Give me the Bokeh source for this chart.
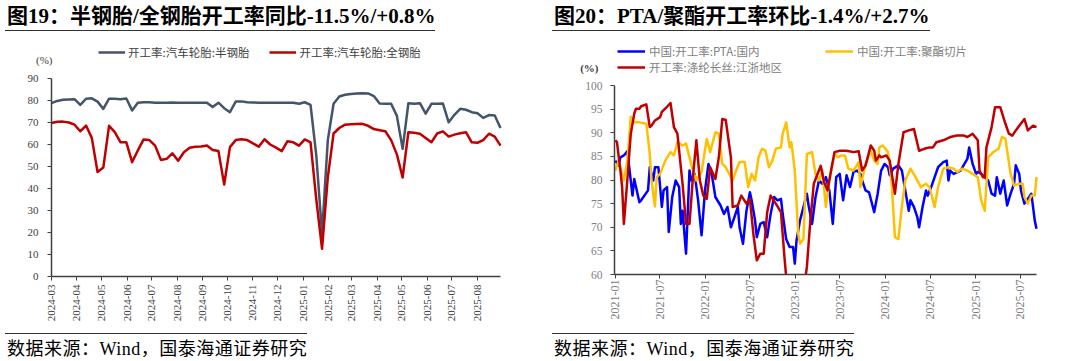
import math
import pandas as pd
from bokeh.plotting import figure
from bokeh.models import (Range1d, FixedTicker, MonthsTicker, DatetimeTickFormatter,
                          Legend, LegendItem, Label, Div)
from bokeh.layouts import row, column
from bokeh.embed import file_html
from bokeh.resources import INLINE

nan = float("nan")

# ---------------- data: left chart (weekly, from 2024-03-01) ----------------
tire_start = "2024-03-01"
tire_weeks = 79
semi_steel = [78.8, 79.8, 80.3, 80.5, 80.6, 78.0, 80.8, 81.0, 79.5, 76.2,
              80.8, 80.8, 80.6, 80.9, 75.5, 79.0, 79.2, 79.2, 79.0, 79.0,
              79.0, 79.1, 79.0, 79.0, 79.0, 79.0, 79.0, 79.0, 77.0, 79.0,
              76.5, 74.7, 79.5, 79.6, 79.2, 79.1, 79.0, 79.0, 79.0, 79.0,
              79.0, 79.0, 79.0, 78.5, 79.2, 78.0, 55.0, 19.4, 62.0, 78.5,
              81.8, 82.6, 83.0, 83.2, 83.3, 83.2, 82.0, 78.6, 78.5, 78.5,
              73.0, 58.0, 78.8, 78.5, 78.8, 74.0, 78.5, 78.5, 78.6, 70.1,
              73.5, 76.2, 75.8, 74.7, 74.2, 72.1, 73.4, 73.2, 67.5]
all_steel = [69.8, 70.3, 70.4, 70.0, 69.0, 66.0, 68.6, 63.0, 47.5, 49.5,
             68.5, 65.6, 61.0, 61.0, 52.0, 57.3, 62.3, 62.0, 59.5, 53.0,
             53.5, 56.0, 52.6, 56.5, 58.5, 59.0, 59.1, 59.5, 57.5, 57.0,
             41.8, 58.8, 62.0, 62.4, 62.0, 60.5, 59.0, 62.4, 60.0, 58.6,
             57.0, 61.5, 61.0, 59.5, 62.3, 61.0, 35.0, 12.6, 45.0, 65.0,
             67.5, 69.0, 69.2, 69.3, 69.4, 68.5, 67.0, 66.5, 66.0, 62.0,
             55.5, 45.0, 65.6, 65.3, 64.9, 63.0, 61.0, 65.0, 66.0, 63.6,
             64.5, 65.1, 65.6, 61.0, 60.8, 62.0, 64.9, 63.6, 59.5]
tire_labels = ["开工率:汽车轮胎:半钢胎", "开工率:汽车轮胎:全钢胎"]
tire_yticks = [0, 10, 20, 30, 40, 50, 60, 70, 80, 90]

# ---------------- data: right chart (week number since 2021-01-01) ----------------
week0 = "2021-01-01"
pta_week = [0, 2, 3, 5, 7, 10, 11, 14, 15, 19, 20, 22, 23, 25, 27, 28, 30, 31, 33, 35,
            37, 38, 39, 41, 43, 44, 46, 48, 50, 52, 54, 56, 58, 61, 63, 65, 67, 69, 71, 72,
            74, 76, 78, 79, 81, 82, 84, 86, 88, 90, 92, 94, 96, 97, 99, 101, 103, 104, 105, 107,
            111, 112, 114, 116, 118, 120, 122, 124, 126, 128, 130, 132, 134, 136, 138, 140, 142, 143, 145, 147,
            149, 150, 152, 154, 156, 158, 159, 161, 164, 166, 168, 170, 171, 173, 175, 176, 178, 180, 181, 183,
            185, 187, 190, 192, 193, 194, 196, 200, 204, 205, 207, 209, 210, 212, 214, 216, 218, 220, 221, 223,
            225, 227, 229, 231, 232, 234, 235, 237, 239, 241, 242, 243, 244]
pta_rate = [84.1, 83.1, 84.8, 85.2, 86.1, 76.7, 80.2, 75.3, 75.7, 77.8, 82.7, 79.9, 82.7, 82.7, 74.3, 77.8, 78.5, 69.0, 76.4, 79.9,
            78.5, 70.7, 73.5, 64.4, 82.0, 79.9, 81.3, 75.7, 68.3, 77.8, 83.4, 81.0, 76.4, 74.6, 72.8, 74.3, 70.0, 72.1, 74.3, 70.0,
            66.5, 73.5, 77.4, 75.7, 71.4, 67.9, 70.7, 71.1, 67.9, 72.8, 76.4, 75.7, 76.0, 72.8, 67.5, 65.8, 65.8, 62.3, 67.2, 71.4,
            77.1, 74.6, 70.7, 76.4, 79.9, 79.2, 80.6, 77.8, 70.7, 80.6, 81.3, 75.7, 81.0, 78.5, 81.7, 82.0, 81.3, 79.9, 77.8, 77.4,
            74.6, 73.2, 77.1, 82.0, 83.4, 82.7, 81.0, 82.4, 83.1, 82.0, 77.8, 73.5, 75.7, 74.3, 72.1, 70.0, 74.3, 77.8, 76.7, 78.5,
            80.6, 82.7, 83.8, 84.1, 79.9, 82.0, 81.3, 82.0, 84.5, 86.9, 83.4, 81.3, 81.7, 81.3, 80.6, 79.9, 77.1, 76.7, 80.6, 77.1,
            79.9, 74.6, 77.1, 79.2, 83.1, 81.3, 77.8, 75.0, 76.0, 77.1, 74.3, 71.4, 69.7]

chip_week = [0, 2, 5, 7, 9, 11, 14, 18, 20, 21, 23, 24, 26, 29, 32, 34, 36, 39, 41, 43,
             45, 47, 50, 53, 55, 58, 60, 62, 64, 68, 70, 72, 75, 77, 79, 81, 83, 85, 87, 89,
             91, 93, 96, 97, 99, 101, 102, 104, 106, 107, 109, 111, 114, 116, 118, 120, 122, 124, 127, 129,
             131, 133, 135, 138, 141, 142, 145, 148, 150, 152, 153, 155, 158, 160, 162, 164, 166, 168, 171, 174,
             177, 180, 182, 185, 187, 190, 193, 196, 198, 201, 204, 207, 210, 212, 214, 216, 219, 222, 224, 226,
             229, 231, 234, 236, 237, 239, 241, 243, 244]
chip_rate = [82.0, 84.1, 79.9, 84.0, 93.4, 92.2, 92.2, 91.9, 85.5, 79.9, 74.4, 80.6, 81.3, 84.1, 85.9, 85.2, 88.0, 87.3, 87.7, 84.8,
             82.0, 79.9, 81.7, 88.7, 85.9, 90.1, 89.8, 83.4, 82.7, 79.9, 82.0, 83.8, 83.8, 78.5, 81.3, 79.9, 84.8, 86.6, 86.2, 82.7,
             84.1, 86.6, 86.9, 89.8, 92.2, 86.9, 88.0, 82.0, 68.6, 66.5, 67.5, 85.5, 85.9, 81.3, 79.9, 82.0, 74.3, 79.9, 85.5, 84.8,
             85.2, 85.2, 82.4, 82.0, 83.8, 78.5, 83.4, 86.2, 84.1, 83.4, 86.9, 87.3, 85.9, 79.9, 67.9, 67.5, 74.3, 79.9, 82.4, 80.6,
             78.5, 79.2, 78.5, 74.3, 78.5, 82.4, 82.7, 82.4, 81.7, 82.4, 82.0, 81.3, 80.6, 75.7, 73.5, 84.8, 85.9, 86.6, 89.1, 88.7,
             81.3, 78.8, 79.2, 79.2, 76.4, 75.0, 76.7, 76.7, 80.6]

# values below the 60 floor are not visible in the source; nan marks that hidden stretch
yarn_week = [0, 1, 3, 4, 5, 7, 9, 11, 12, 14, 15, 18, 20, 21, 23, 26, 27, 30, 32, 34,
             36, 39, 41, 43, 45, 47, 49, 51, 53, 55, 58, 60, 62, 64, 67, 68, 71, 73, 76, 78,
             80, 82, 84, 86, 88, 90, 93, 96, 98, 98.9, 104, 110.4, 111, 113, 115, 119, 121, 123, 125, 127,
             130, 134, 138, 141, 143, 145, 148, 150, 151, 153, 154, 157, 159, 162, 164, 167, 170, 173, 176, 179,
             182, 184, 186, 190, 194, 198, 202, 204, 207, 210, 211, 213, 214, 215, 218, 220, 223, 226, 228, 230,
             232, 234, 237, 239, 242, 244]
yarn_rate = [88.4, 88.0, 82.0, 78.5, 70.7, 80.0, 89.8, 94.0, 95.1, 95.1, 95.6, 96.0, 91.2, 91.5, 92.6, 93.3, 94.4, 95.5, 96.3, 91.2,
             89.8, 79.2, 70.7, 70.7, 80.6, 88.4, 79.9, 76.7, 76.0, 82.7, 80.2, 84.8, 92.9, 92.7, 84.8, 74.3, 74.6, 76.7, 75.0, 76.0,
             68.6, 63.0, 64.4, 64.4, 73.2, 76.7, 75.0, 73.2, 63.7, 60.0, nan, 60.0, 61.6, 71.4, 79.2, 83.0, 79.5, 77.8, 82.0, 85.9,
             86.2, 86.2, 85.9, 86.1, 82.0, 83.1, 87.3, 86.2, 84.1, 85.2, 84.8, 85.2, 84.1, 77.1, 83.4, 90.1, 90.5, 90.8, 86.2, 86.6,
             86.9, 86.9, 88.0, 88.4, 89.1, 89.4, 89.4, 89.1, 89.8, 88.4, 82.0, 80.6, 80.6, 86.9, 91.2, 95.4, 95.4, 91.9, 89.8, 89.4,
             90.5, 91.5, 92.9, 90.5, 91.5, 91.2]
poly_labels = ["中国:开工率:PTA:国内", "开工率:涤纶长丝:江浙地区", "中国:开工率:聚酯切片"]
poly_yticks = [60, 65, 70, 75, 80, 85, 90, 95, 100]

# ---------------- helpers ----------------
SERIF = "Liberation Serif"
CJK = "Noto Sans CJK SC"
MIX = "'Liberation Serif','Noto Sans CJK SC',serif"
FIG_W, FIG_H = 540, 301


def week_dates(weeks):
    return pd.to_datetime(week0) + pd.to_timedelta([7 * w for w in weeks], unit="D")


def ms(ts):
    return pd.Timestamp(ts).value / 1e6


def frame_ranges(x0, x1, px0, px1, y0, y1, py0, py1):
    """Ranges so that the whole figure is the plotting frame; axis ends sit at the
    given pixel offsets inside the figure (px from left, py from top)."""
    x0, x1 = pd.Timestamp(x0), pd.Timestamp(x1)
    pxd = (px1 - px0) / ((x1 - x0) / pd.Timedelta(days=1))
    xr = Range1d(x0 - pd.Timedelta(days=px0 / pxd), x1 + pd.Timedelta(days=(FIG_W - px1) / pxd))
    pyu = (py0 - py1) / (y1 - y0)
    yr = Range1d(y0 - (FIG_H - py0) / pyu, y1 + py1 / pyu)
    return xr, yr


def make_fig(xr, yr):
    p = figure(width=FIG_W, height=FIG_H, x_axis_type="datetime", output_backend="svg",
               toolbar_location=None, x_range=xr, y_range=yr,
               min_border_left=0, min_border_right=0, min_border_top=0, min_border_bottom=0)
    p.xgrid.visible = False
    p.ygrid.visible = False
    p.outline_line_color = None
    p.background_fill_color = "white"
    p.border_fill_color = "white"
    for ax in (p.xaxis[0], p.yaxis[0]):
        ax.minor_tick_line_color = None
        ax.major_tick_in = 0
        ax.major_tick_out = 4
        ax.axis_line_color = "#404040"
        ax.axis_line_width = 1.5
        ax.major_tick_line_color = "#404040"
        ax.major_label_text_font = SERIF
    p.xaxis.formatter = DatetimeTickFormatter(months="%Y-%m", years="%Y-%m", days="%Y-%m")
    p.xaxis.major_label_orientation = math.pi / 2
    return p


# ---------------- left figure ----------------
L_start, L_end = "2024-03-01", "2025-08-29"
xr1, yr1 = frame_ranges(L_start, L_end, 51, 500, 0, 90, 244, 46)
p1 = make_fig(xr1, yr1)
tire_dates = pd.date_range(tire_start, periods=tire_weeks, freq="7D")
r_semi = p1.line(tire_dates, semi_steel, line_color="#44546a", line_width=2.5, line_join="round")
r_all = p1.line(tire_dates, all_steel, line_color="#c00000", line_width=2.5, line_join="round")

p1.yaxis.ticker = FixedTicker(ticks=tire_yticks)
p1.yaxis.bounds = (0, 90)
p1.yaxis.fixed_location = ms(L_start)
p1.xaxis.bounds = (ms(L_start), ms(L_end))
p1.xaxis.fixed_location = 0
p1.xaxis.ticker = MonthsTicker(months=list(range(0, 12)))
for ax in (p1.xaxis[0], p1.yaxis[0]):
    ax.major_label_text_color = "#404040"
    ax.major_label_text_font_size = "11px"
p1.yaxis.major_label_standoff = 9
p1.xaxis.major_label_standoff = 4

leg1 = Legend(items=[LegendItem(label=tire_labels[0], renderers=[r_semi]),
                     LegendItem(label=tire_labels[1], renderers=[r_all])],
              orientation="horizontal", location=(98, 273), padding=0, margin=0,
              spacing=20, glyph_width=27, glyph_height=12, label_standoff=3,
              label_height=12, label_text_font=CJK, label_text_font_size="11.5px",
              label_text_color="#404040", background_fill_alpha=0, border_line_alpha=0)
p1.add_layout(leg1)
p1.add_layout(Label(x=ms(L_start), y=98.2, x_offset=1, text="(%)",
                    text_align="right", text_baseline="middle", text_font=SERIF,
                    text_font_size="11px", text_color="#404040"))

# ---------------- right figure ----------------
R_start, R_end = "2020-12-29", "2025-09-05"
xr2, yr2 = frame_ranges(R_start, R_end, 74, 496, 60, 100, 242, 53)
p2 = make_fig(xr2, yr2)
r_pta = p2.line(week_dates(pta_week), pta_rate, line_color="#0000ff", line_width=2.5, line_join="round")
r_chip = p2.line(week_dates(chip_week), chip_rate, line_color="#ffc000", line_width=2.5, line_join="round")
r_yarn = p2.line(week_dates(yarn_week), yarn_rate, line_color="#c00000", line_width=2.5, line_join="round")

p2.yaxis.ticker = FixedTicker(ticks=poly_yticks)
p2.yaxis.bounds = (60, 100)
p2.yaxis.fixed_location = ms(R_start)
p2.xaxis.bounds = (ms(R_start), ms(R_end))
p2.xaxis.fixed_location = 60
p2.xaxis.ticker = MonthsTicker(months=[0, 6])
for ax in (p2.xaxis[0], p2.yaxis[0]):
    ax.major_label_text_color = "#808080"
p2.yaxis.major_label_text_font_size = "11.5px"
p2.yaxis.major_label_standoff = 8
p2.xaxis.major_label_text_font_size = "12px"
p2.xaxis.major_label_standoff = 1

leg_kw = dict(orientation="vertical", padding=0, margin=0, spacing=0, glyph_width=28,
              glyph_height=12, label_standoff=4, label_height=12, label_text_font=CJK,
              label_text_font_size="11.5px", label_text_color="#808080",
              background_fill_alpha=0, border_line_alpha=0)
leg2a = Legend(items=[LegendItem(label=poly_labels[0], renderers=[r_pta]),
                      LegendItem(label=poly_labels[1], renderers=[r_yarn])],
               location=(77, 258), **leg_kw)
leg2b = Legend(items=[LegendItem(label=poly_labels[2], renderers=[r_chip])],
               location=(285, 274), **leg_kw)
p2.add_layout(leg2a)
p2.add_layout(leg2b)
p2.add_layout(Label(x=ms(R_start), y=103.8, x_offset=-16, text="(%)",
                    text_align="right", text_baseline="middle", text_font=SERIF,
                    text_font_style="bold", text_font_size="11px", text_color="#404040"))

# ---------------- titles and sources ----------------
title_css = ("font-family:" + MIX + ";font-size:21px;font-weight:bold;color:#000;"
             "line-height:24px;height:26px;padding:4px 0 0 2px;white-space:nowrap;"
             "border-bottom:1.5px solid #333;box-sizing:content-box;")
source_css = ("font-family:" + MIX + ";font-size:18px;letter-spacing:0.5px;color:#000;"
              "line-height:20px;padding:5px 0 0 2px;white-space:nowrap;"
              "border-top:1.5px solid #333;")


def header(text, width, left):
    return Div(text='<div style="%s">%s</div>' % (title_css, text), width=width, height=32,
               margin=(0, 0, 0, left))


def footer(text, width, left):
    return Div(text='<div style="%s">%s</div>' % (source_css, text), width=width, height=27,
               margin=(0, 0, 0, left))


t1 = header("图19：半钢胎/全钢胎开工率同比-11.5%/+0.8%", 530, 5)
s1 = footer("数据来源：Wind，国泰海通证券研究", 525, 5)
t2 = header("图20：PTA/聚酯开工率环比-1.4%/+2.7%", 524, 12)
s2 = footer("数据来源：Wind，国泰海通证券研究", 524, 12)

left = column(t1, p1, s1, spacing=0)
right = column(t2, p2, s2, spacing=0)
layout = row(left, right, spacing=0)

open("out.html", "w").write(file_html(layout, INLINE))
